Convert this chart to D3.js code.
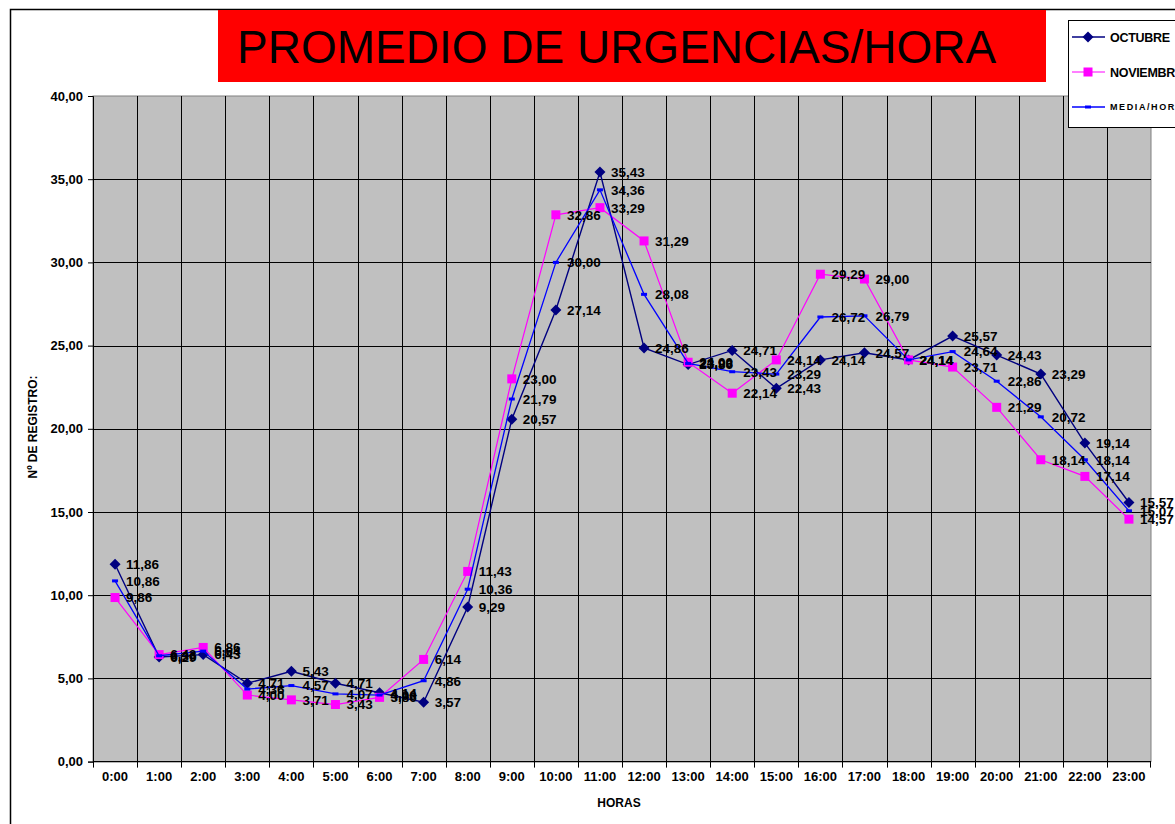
<!DOCTYPE html>
<html>
<head>
<meta charset="utf-8" />
<title>Promedio de urgencias/hora</title>
<script src="https://cdn.jsdelivr.net/npm/d3@7/dist/d3.min.js"></script>
<style>
	body { margin: 0; background: #fff; }
	svg { display: block; font-family: Arial, "Liberation Sans", sans-serif; }
	.lbl { font-size: 13.5px; font-weight: bold; fill: #000; }
	.tick-lbl { font-size: 13px; font-weight: bold; fill: #000; }
</style>
</head>
<body>
<script>
// datos
var horas = ["0:00","1:00","2:00","3:00","4:00","5:00","6:00","7:00","8:00","9:00","10:00","11:00",
	"12:00","13:00","14:00","15:00","16:00","17:00","18:00","19:00","20:00","21:00","22:00","23:00"];
var octubre = [11.86, 6.29, 6.43, 4.71, 5.43, 4.71, 4.14, 3.57, 9.29, 20.57, 27.14, 35.43,
	24.86, 23.86, 24.71, 22.43, 24.14, 24.57, 24.14, 25.57, 24.43, 23.29, 19.14, 15.57];
var noviembre = [9.86, 6.43, 6.86, 4.00, 3.71, 3.43, 3.86, 6.14, 11.43, 23.00, 32.86, 33.29,
	31.29, 24.00, 22.14, 24.14, 29.29, 29.00, 24.14, 23.71, 21.29, 18.14, 17.14, 14.57];
var media = [10.86, 6.36, 6.64, 4.36, 4.57, 4.07, 4.00, 4.86, 10.36, 21.79, 30.00, 34.36,
	28.08, 23.93, 23.43, 23.29, 26.72, 26.79, 24.14, 24.64, 22.86, 20.72, 18.14, 15.07];
var yTicks = [0, 5, 10, 15, 20, 25, 30, 35, 40];

var W = 1175, H = 824;
var svg = d3.select("body").append("svg").attr("width", W).attr("height", H);

var fmt = function (v) { return d3.format(".2f")(v).replace(".", ","); };

// borde exterior
svg.append("path")
	.attr("d", "M10.5," + H + " V9.5 H" + W)
	.attr("fill", "none").attr("stroke", "#000").attr("stroke-width", 1.5);

// titulo
svg.append("rect").attr("x", 218).attr("y", 10).attr("width", 828).attr("height", 72).attr("fill", "#ff0000");
svg.append("text").attr("x", 237).attr("y", 63)
	.style("font-size", "46px").attr("fill", "#000")
	.text("PROMEDIO DE URGENCIAS/HORA");

// limites del area de trazado
var pLeft = 93, pRight = 1151, pTop = 96, pBottom = 761.6;

var x = d3.scaleBand().domain(horas).range([pLeft, pRight]).padding(0);
var y = d3.scaleLinear().domain([0, 40]).range([pBottom, pTop]);
var cx = function (i) { return x(horas[i]) + x.bandwidth() / 2; };

// area del grafico
svg.append("rect").attr("x", pLeft).attr("y", pTop).attr("width", pRight - pLeft).attr("height", pBottom - pTop)
	.attr("fill", "#c0c0c0").attr("stroke", "#808080").attr("stroke-width", 1);

// lineas horizontales
svg.append("g")
	.selectAll("line").data(yTicks.filter(function (d) { return d > 0 && d < 40; }))
	.enter().append("line")
	.attr("x1", pLeft).attr("x2", pRight)
	.attr("y1", function (d) { return Math.round(y(d)) + 0.5; })
	.attr("y2", function (d) { return Math.round(y(d)) + 0.5; })
	.attr("stroke", "#000").attr("stroke-width", 1);

// lineas verticales (limites de categoria) con marcas bajo el eje
svg.append("g")
	.selectAll("line").data(horas.slice(1))
	.enter().append("line")
	.attr("x1", function (d) { return Math.round(x(d)) + 0.5; })
	.attr("x2", function (d) { return Math.round(x(d)) + 0.5; })
	.attr("y1", pTop).attr("y2", pBottom + 6)
	.attr("stroke", "#000").attr("stroke-width", 1);

// eje Y
var yAxis = svg.append("g").attr("transform", "translate(" + pLeft + ",0)")
	.call(d3.axisLeft(y).tickValues(yTicks).tickSize(5).tickPadding(5).tickFormat(fmt));
yAxis.select(".domain").attr("stroke", "#000");
yAxis.selectAll("text").attr("class", "tick-lbl").attr("font-family", null).attr("font-size", null);

// eje X
svg.append("line").attr("x1", pLeft).attr("x2", pRight).attr("y1", pBottom).attr("y2", pBottom)
	.attr("stroke", "#000").attr("stroke-width", 1.2);
svg.append("line").attr("x1", pLeft + 0.5).attr("x2", pLeft + 0.5).attr("y1", pBottom).attr("y2", pBottom + 6)
	.attr("stroke", "#000");
svg.append("line").attr("x1", pRight - 0.5).attr("x2", pRight - 0.5).attr("y1", pBottom).attr("y2", pBottom + 6)
	.attr("stroke", "#000");
svg.append("g").selectAll("text").data(horas).enter().append("text")
	.attr("class", "tick-lbl")
	.attr("x", function (d, i) { return cx(i); })
	.attr("y", 781)
	.attr("text-anchor", "middle")
	.text(function (d) { return d; });

// titulos de ejes
svg.append("text").attr("x", 619).attr("y", 807).attr("text-anchor", "middle")
	.style("font-size", "12px").style("font-weight", "bold").text("HORAS");
svg.append("text").attr("transform", "translate(37,427) rotate(-90)").attr("text-anchor", "middle")
	.style("font-size", "12px").style("font-weight", "bold").text("Nº DE REGISTRO:");

// series
var series = [
	{ name: "OCTUBRE", values: octubre, color: "#000080", marker: "diamond", width: 1.4 },
	{ name: "NOVIEMBRE", values: noviembre, color: "#ff00ff", marker: "square", width: 1.2 },
	{ name: "MEDIA/HORA", values: media, color: "#0000ff", marker: "dash", width: 1.3 }
];

function drawMarker(g, type, color) {
	if (type === "diamond") {
		g.append("path").attr("d", "M0,-5.5 L5.5,0 L0,5.5 L-5.5,0 Z").attr("fill", color);
	} else if (type === "square") {
		g.append("rect").attr("x", -4.5).attr("y", -4.5).attr("width", 9).attr("height", 9).attr("fill", color);
	} else {
		g.append("rect").attr("x", -3).attr("y", -1.5).attr("width", 6).attr("height", 3).attr("fill", color);
	}
}

var line = d3.line()
	.x(function (d, i) { return cx(i); })
	.y(function (d) { return y(d); });

series.forEach(function (s) {
	svg.append("path").datum(s.values)
		.attr("d", line)
		.attr("fill", "none").attr("stroke", s.color).attr("stroke-width", s.width);
	s.values.forEach(function (v, i) {
		var g = svg.append("g").attr("transform", "translate(" + cx(i) + "," + y(v) + ")");
		drawMarker(g, s.marker, s.color);
	});
});

// etiquetas de datos
series.forEach(function (s) {
	svg.append("g").selectAll("text").data(s.values).enter().append("text")
		.attr("class", "lbl")
		.attr("x", function (d, i) { return cx(i) + 11; })
		.attr("y", function (d) { return y(d); })
		.attr("dy", "0.36em")
		.text(fmt);
});

// leyenda
var leg = svg.append("g");
leg.append("rect").attr("x", 1068.5).attr("y", 20.5).attr("width", 120).attr("height", 107)
	.attr("fill", "#fff").attr("stroke", "#000").attr("stroke-width", 1);
var legY = [37, 72, 107];
series.forEach(function (s, i) {
	leg.append("line").attr("x1", 1072).attr("x2", 1105).attr("y1", legY[i]).attr("y2", legY[i])
		.attr("stroke", s.color).attr("stroke-width", s.width);
	var g = leg.append("g").attr("transform", "translate(1088," + legY[i] + ")");
	drawMarker(g, s.marker, s.color);
	var t = leg.append("text").attr("x", 1110).attr("y", legY[i]).attr("dy", "0.36em")
		.style("font-weight", "bold").text(s.name);
	if (i === 2) {
		t.style("font-size", "9px").style("letter-spacing", "1.6px");
	} else {
		t.style("font-size", "12.5px").style("letter-spacing", "-0.3px");
	}
});
</script>
</body>
</html>
